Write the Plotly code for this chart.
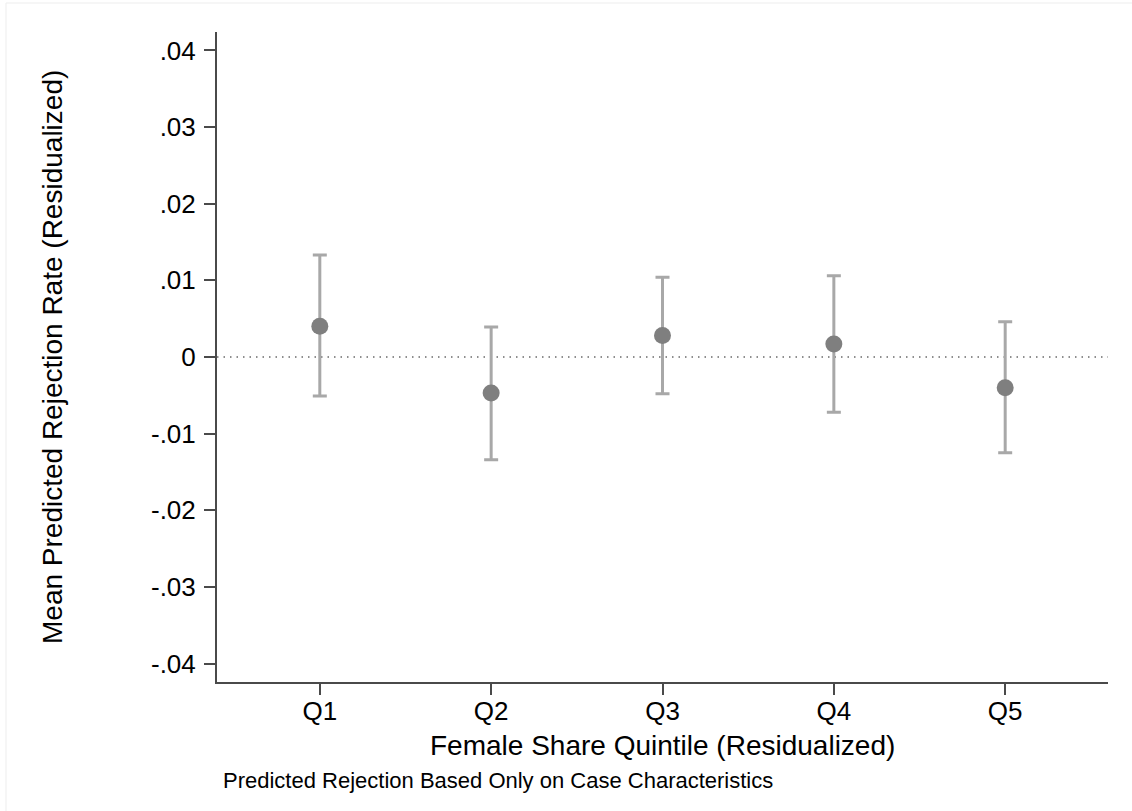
import plotly.graph_objects as go

# Residualized mean predicted rejection rate by female-share quintile, with 95% CIs
quintiles = ["Q1", "Q2", "Q3", "Q4", "Q5"]
estimate = [0.0040, -0.0047, 0.0028, 0.0017, -0.0040]
ci_upper = [0.0133, 0.0039, 0.0104, 0.0106, 0.0046]
ci_lower = [-0.0051, -0.0134, -0.0048, -0.0072, -0.0125]

ytick_vals = [0.04, 0.03, 0.02, 0.01, 0.0, -0.01, -0.02, -0.03, -0.04]
ytick_text = [".04", ".03", ".02", ".01", "0", "-.01", "-.02", "-.03", "-.04"]

FONT = "Liberation Sans, Arial, Helvetica, sans-serif"
W, H = 1132, 811
L, R, T, B = 217, 24, 32, 129
plot_w = W - L - R
plot_h = H - T - B


def px_x(px):
    return (px - L) / plot_w


def px_y(py):
    return (H - B - py) / plot_h


err_plus = [hi - e for hi, e in zip(ci_upper, estimate)]
err_minus = [e - lo for e, lo in zip(estimate, ci_lower)]

fig = go.Figure()
fig.add_trace(go.Scatter(
    x=quintiles,
    y=estimate,
    mode="markers",
    marker=dict(size=17, color="#7f7f7f", line=dict(width=0)),
    error_y=dict(type="data", symmetric=False, array=err_plus, arrayminus=err_minus,
                 color="#a8a8a8", thickness=3, width=7),
    showlegend=False,
    hoverinfo="skip",
))

shapes = [
    # dotted reference line at zero
    dict(type="line", xref="paper", yref="y", x0=0, x1=1, y0=0, y1=0,
         line=dict(color="#6a6a6a", width=1.5, dash="1.5px,5px"), layer="below"),
    # faint outer frame of the graph region
    dict(type="line", xref="paper", yref="paper", x0=px_x(6), x1=px_x(W + 5),
         y0=px_y(3), y1=px_y(3), line=dict(color="#ededed", width=1)),
    dict(type="line", xref="paper", yref="paper", x0=px_x(6), x1=px_x(6),
         y0=px_y(3), y1=px_y(H + 5), line=dict(color="#ededed", width=1)),
]

annotations = [
    dict(text="Mean Predicted Rejection Rate (Residualized)", xref="paper", yref="paper",
         x=px_x(52), y=0.5, xanchor="center", yanchor="middle", textangle=-90,
         showarrow=False, font=dict(family=FONT, size=28, color="black")),
    dict(text="Female Share Quintile (Residualized)", xref="paper", yref="paper",
         x=0.5, y=px_y(745), xanchor="center", yanchor="middle",
         showarrow=False, font=dict(family=FONT, size=28, color="black")),
    dict(text="Predicted Rejection Based Only on Case Characteristics", xref="paper",
         yref="paper", x=px_x(220.5), y=px_y(780), xanchor="left", yanchor="middle",
         showarrow=False, font=dict(family=FONT, size=22, color="black")),
]

fig.update_layout(
    width=W, height=H,
    margin=dict(l=L, r=R, t=T, b=B, pad=0),
    paper_bgcolor="white", plot_bgcolor="white",
    font=dict(family=FONT, color="black"),
    shapes=shapes,
    annotations=annotations,
    xaxis=dict(
        type="category", range=[-0.6, 4.6],
        showline=True, linecolor="#4a4a4a", linewidth=2,
        ticks="outside", ticklen=11, tickwidth=2, tickcolor="#4a4a4a",
        ticklabelstandoff=-6,
        tickfont=dict(family=FONT, size=26, color="black"),
        showgrid=False, zeroline=False, mirror=False,
    ),
    yaxis=dict(
        range=[-0.0424, 0.0424],
        tickvals=ytick_vals, ticktext=ytick_text,
        showline=True, linecolor="#4a4a4a", linewidth=2,
        ticks="outside", ticklen=11, tickwidth=2, tickcolor="#4a4a4a",
        ticklabelstandoff=3,
        tickfont=dict(family=FONT, size=26, color="black"),
        showgrid=False, zeroline=False, mirror=False,
    ),
)

fig.write_html("out.html")
